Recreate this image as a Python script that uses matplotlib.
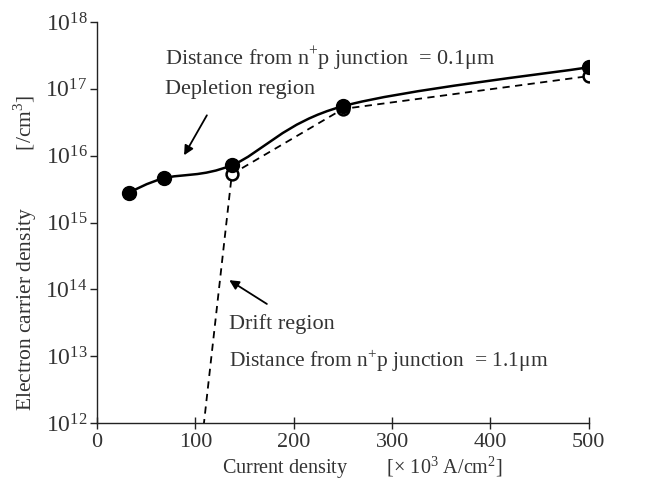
import matplotlib
matplotlib.use("Agg")
import matplotlib.pyplot as plt
import numpy as np
from matplotlib.path import Path
from matplotlib.patches import PathPatch
from matplotlib.ticker import FixedLocator, FixedFormatter

plt.rcParams['font.family'] = ['Liberation Serif', 'DejaVu Serif']
plt.rcParams['mathtext.fontset'] = 'custom'
plt.rcParams['mathtext.rm'] = 'Liberation Serif'

TEXT = '#333333'

# depletion region (0.1 um), filled markers
dep_x = [32, 68, 137, 250, 500]
dep_y = [2.8e15, 4.6e15, 7.2e15, 5.5e16, 2.1e17]

# drift region (1.1 um), open markers
drift_x = [137, 250, 500]
drift_y = [5.3e15, 5.0e16, 1.55e17]
# dashed line drops below the axis
drift_line_x = [101, 137, 250, 500]
drift_line_y = [1e11, 5.3e15, 5.0e16, 1.55e17]

xticks = [0, 100, 200, 300, 400, 500]
yexp = [12, 13, 14, 15, 16, 17, 18]


def smooth_path(xs, ys):
    # Catmull-Rom style bezier through points (x, log y), like a smoothed spreadsheet line
    px = np.array(xs, dtype=float)
    py = np.log10(ys)
    n = len(px)
    verts = [(px[0], py[0])]
    codes = [Path.MOVETO]
    for i in range(n - 1):
        p0 = (px[max(i - 1, 0)], py[max(i - 1, 0)])
        p1 = (px[i], py[i])
        p2 = (px[i + 1], py[i + 1])
        p3 = (px[min(i + 2, n - 1)], py[min(i + 2, n - 1)])
        c1 = (p1[0] + (p2[0] - p0[0]) / 6, p1[1] + (p2[1] - p0[1]) / 6)
        c2 = (p2[0] - (p3[0] - p1[0]) / 6, p2[1] - (p3[1] - p1[1]) / 6)
        verts += [c1, c2, p2]
        codes += [Path.CURVE4] * 3
    verts = [(v[0], 10 ** v[1]) for v in verts]
    return Path(verts, codes)


fig = plt.figure(figsize=(6.52, 4.88), dpi=100)
ax = fig.add_axes([0.149, 0.133, 0.754, 0.822])
ax.set_yscale('log')
ax.set_xlim(0, 500)
ax.set_ylim(1e12, 1e18)

ax.plot(drift_line_x, drift_line_y, color='black', lw=1.3, ls=(0, (4, 3)), zorder=2)
ax.add_patch(PathPatch(smooth_path(dep_x, dep_y), fill=False, color='black', lw=1.8, zorder=3))
ax.plot(drift_x, drift_y, 'o', ms=8.5, mfc='white', mec='black', mew=1.8, zorder=4)
ax.plot(dep_x, dep_y, 'o', ms=10, color='black', zorder=5)

for s in ['top', 'right']:
    ax.spines[s].set_visible(False)
for s in ['left', 'bottom']:
    ax.spines[s].set_color('#222222')
    ax.spines[s].set_linewidth(1.0)

ax.xaxis.set_major_locator(FixedLocator(xticks))
ax.xaxis.set_major_formatter(FixedFormatter([str(t) for t in xticks]))
ax.yaxis.set_major_locator(FixedLocator([10.0 ** e for e in yexp]))
ax.yaxis.set_major_formatter(FixedFormatter([r'$\mathregular{10^{%d}}$' % e for e in yexp]))
ax.yaxis.set_minor_locator(FixedLocator([]))
ax.tick_params(axis='x', direction='inout', length=8, width=1, colors='#222222',
               labelcolor=TEXT, labelsize=16, pad=3)
ax.tick_params(axis='y', direction='out', length=5, width=1, colors='#222222',
               labelcolor=TEXT, labelsize=17, pad=2)

ax.set_xlabel('Current density        [× 10$^{3}$ A/cm$^{2}$]', fontsize=14.5, color=TEXT,
              va='center')
ax.set_ylabel('Electron carrier density           [/cm$^{3}$]', fontsize=15.5, color=TEXT,
              va='center')
ax.xaxis.set_label_coords(0.54, -0.11)
ax.yaxis.set_label_coords(-0.146, 0.424)

ax.text(69, 10 ** 17.46, 'Distance from n$^{+}$p junction  = 0.1μm', fontsize=16,
        color=TEXT, va='center', ha='left')
ax.text(69, 10 ** 16.99, 'Depletion region', fontsize=16, color=TEXT, va='center', ha='left')
ax.annotate('', xy=(87, 10 ** 15.97), xytext=(113, 10 ** 16.64),
            arrowprops=dict(arrowstyle='-|>', color='black', lw=1.3, mutation_scale=14))

ax.text(134, 10 ** 13.48, 'Drift region', fontsize=16, color=TEXT, va='center', ha='left')
ax.text(134, 10 ** 12.93, 'Distance from n$^{+}$p junction  = 1.1μm', fontsize=15.5,
        color=TEXT, va='center', ha='left')
ax.annotate('', xy=(132, 10 ** 14.16), xytext=(175, 10 ** 13.76),
            arrowprops=dict(arrowstyle='-|>', color='black', lw=1.3, mutation_scale=14))

fig.savefig('out.png', dpi=100)
